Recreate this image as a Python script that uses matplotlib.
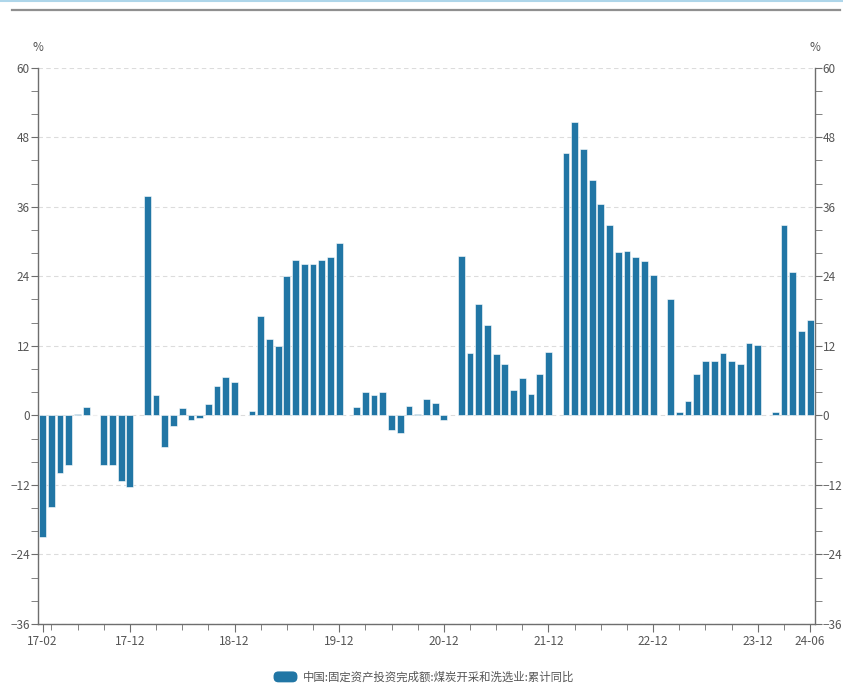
import numpy as np
import matplotlib
matplotlib.use("Agg")
import matplotlib.pyplot as plt
from matplotlib.patches import FancyBboxPatch, Rectangle
from matplotlib.lines import Line2D
from matplotlib.legend_handler import HandlerPatch

plt.rcParams['font.family'] = ['Noto Sans CJK SC', 'DejaVu Sans']

# 月份 17-02 ~ 24-06，每年1月无数据
years = [17, 18, 19, 20, 21, 22, 23, 24]
series_name = "中国:固定资产投资完成额:煤炭开采和洗选业:累计同比"
values = [
    -21.0, -15.8, -10.0, -8.5, 0.3, 1.5, 0.1, -8.5, -8.5, -11.3, -12.3,      # 2017
    None, 37.9, 3.6, -5.4, -1.9, 1.3, -0.8, -0.5, 2.0, 5.1, 6.7, 5.8,        # 2018
    None, 0.7, 17.2, 13.1, 12.0, 24.0, 26.8, 26.1, 26.1, 26.9, 27.4, 29.7,   # 2019
    None, 1.4, 4.1, 3.6, 4.0, -2.5, -3.1, 1.6, 0.3, 2.8, 2.2, -0.8,          # 2020
    None, 27.5, 10.8, 19.3, 15.6, 10.6, 8.8, 4.3, 6.5, 3.7, 7.1, 11.0,       # 2021
    None, 45.3, 50.7, 46.0, 40.6, 36.4, 32.9, 28.2, 28.3, 27.4, 26.6, 24.3,  # 2022
    None, 20.1, 0.6, 2.5, 7.1, 9.4, 9.4, 10.8, 9.3, 8.9, 12.5, 12.1,         # 2023
    None, 0.5, 32.8, 24.8, 14.5, 16.5,                                        # 2024
]

months = []
for y in years:
    for m in range(1, 13):
        if (y == 17 and m < 2) or (y == 24 and m > 6):
            continue
        months.append((y, m))
labels = ["%02d-%02d" % (y, m) for y, m in months]

x = np.arange(len(months))
vals = np.array([np.nan if v is None else v for v in values])

color = "#2176a5"
axis_col = "#6e6e6e"
text_col = "#555555"

fig = plt.figure(figsize=(8.43, 6.86), dpi=100)
ax = fig.add_axes([0.0454, 0.0904, 0.9208, 0.8109])

ax.bar(x, vals, width=0.78, color=color, edgecolor="white", linewidth=0.4, zorder=3)

ax.set_xlim(-0.5, len(x) - 0.5)
ax.set_ylim(-36, 60)

# y axis on both sides
ax.set_yticks(np.arange(-36, 61, 12))
ax.set_yticks(np.arange(-36, 61, 4), minor=True)
ax.tick_params(axis="y", which="both", left=True, right=True, labelleft=True,
               labelright=True, direction="out", color=axis_col, labelcolor=text_col,
               labelsize=8.5, pad=1, length=5)
ax.grid(axis="y", which="major", linestyle=(0, (4, 3)), color="#dcdcdc", linewidth=0.8, zorder=0)

# x ticks: quarters, labels at first, Decembers, last
lab_idx = [i for i, (y, m) in enumerate(months) if i == 0 or m == 12 or i == len(months) - 1]
tick_idx = [i for i, (y, m) in enumerate(months) if m in (3, 6, 9) and i not in lab_idx]
ax.set_xticks(lab_idx)
ax.set_xticklabels([labels[i] for i in lab_idx])
ax.set_xticks(tick_idx, minor=True)
ax.tick_params(axis="x", which="major", length=6, color=axis_col, labelcolor=text_col,
               labelsize=8.5, pad=2)
ax.tick_params(axis="x", which="minor", length=4, color=axis_col)

for s in ["left", "right", "bottom"]:
    ax.spines[s].set_color(axis_col)
    ax.spines[s].set_linewidth(1.0)
ax.spines["top"].set_visible(False)

ax.text(0.0, 1.036, "%", transform=ax.transAxes, ha="center", va="center",
        fontsize=8.5, color=text_col)
ax.text(1.0, 1.036, "%", transform=ax.transAxes, ha="center", va="center",
        fontsize=8.5, color=text_col)

# top decoration lines
fig.add_artist(Line2D([0, 1], [0.999, 0.999], color="#aed6ea", linewidth=1.5))
fig.add_artist(Line2D([0.014, 0.997], [0.985, 0.985], color="#8f8f8f", linewidth=1.6))


def round_patch(legend, orig_handle, xdescent, ydescent, width, height, fontsize):
    return FancyBboxPatch((-xdescent, -ydescent), width, height,
                          boxstyle="round,pad=0,rounding_size=%f" % (height / 2.2),
                          facecolor=color, edgecolor="none")


handle = Rectangle((0, 0), 1, 1, facecolor=color)
fig.legend([handle], [series_name], loc="center", bbox_to_anchor=(0.503, 0.013),
           frameon=False, fontsize=8.2, handlelength=2.1, handleheight=1.1,
           handletextpad=0.5, labelcolor=text_col,
           handler_map={Rectangle: HandlerPatch(patch_func=round_patch)})

fig.savefig("out.png", dpi=100)
